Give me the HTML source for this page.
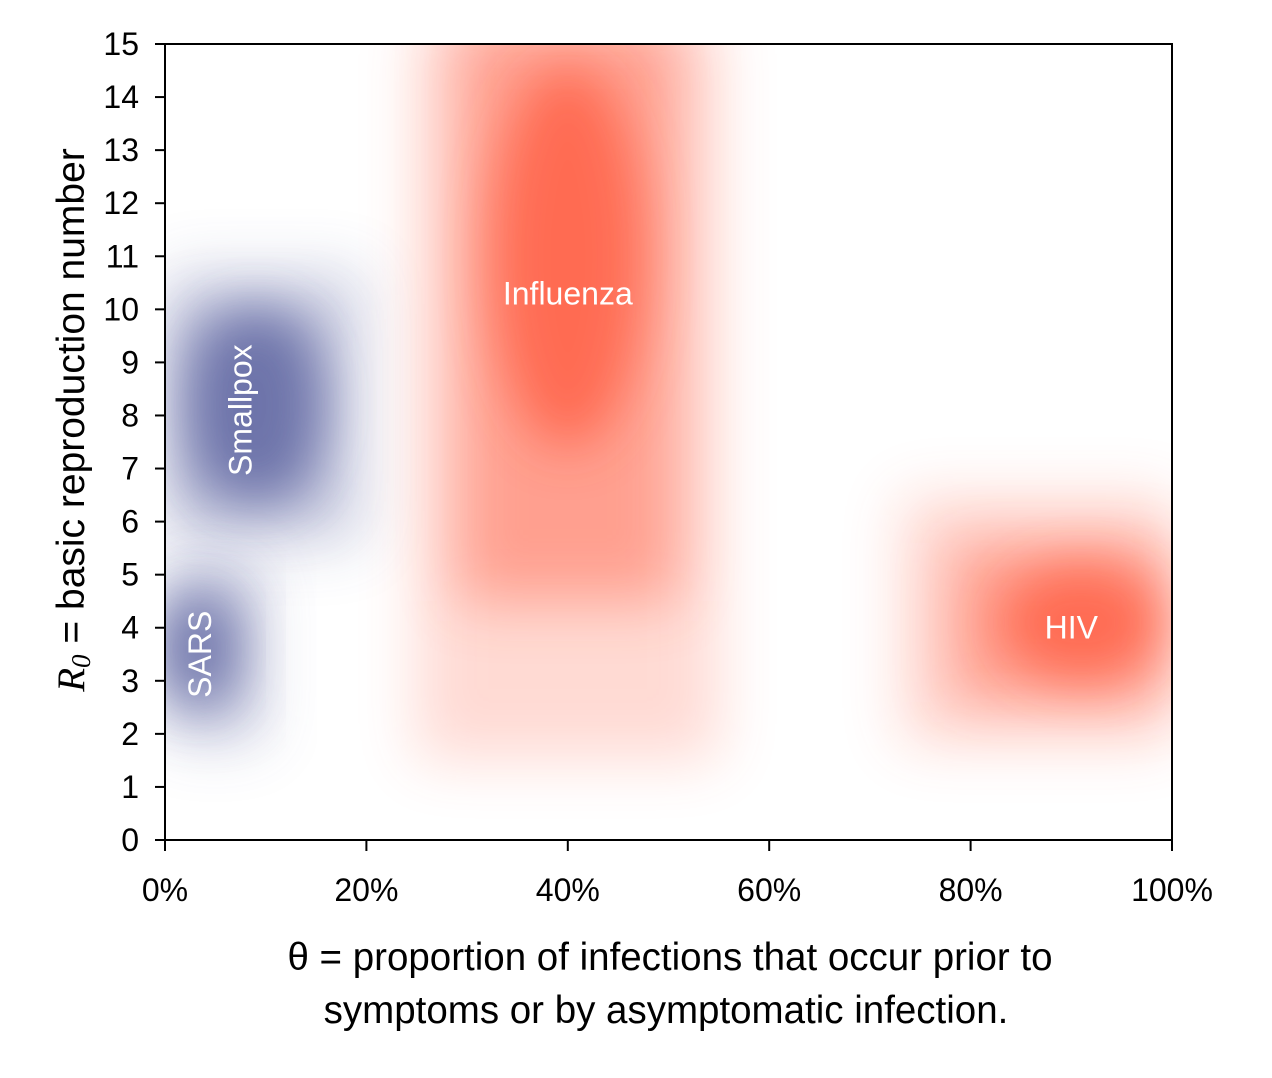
<!DOCTYPE html>
<html><head><meta charset="utf-8"><style>
html,body{margin:0;padding:0;background:#fff;}
svg{display:block;font-family:"Liberation Sans",Arial,sans-serif;}
</style></head><body>
<svg id="chart" width="1272" height="1078" viewBox="0 0 1272 1078">
<defs>
<clipPath id="plotclip"><rect x="165" y="44" width="1007" height="796"/></clipPath>
<filter id="blurA" x="-50%" y="-50%" width="200%" height="200%"><feGaussianBlur stdDeviation="30"/></filter>
<filter id="blurB" x="-50%" y="-50%" width="200%" height="200%"><feGaussianBlur stdDeviation="26"/></filter>
</defs>
<g id="blobs" clip-path="url(#plotclip)"></g>
<g id="labels"></g>
<rect x="165" y="44" width="1007" height="796" fill="none" stroke="#000" stroke-width="2"/>
<g id="axes"></g>
<text x="0" y="0" transform="translate(84,420) rotate(-90)" text-anchor="middle" font-size="39"><tspan font-family="Liberation Serif,serif" font-style="italic">R</tspan><tspan font-family="Liberation Serif,serif" font-style="italic" font-size="27" dy="6">0</tspan><tspan dy="-6"> = basic reproduction number</tspan></text>
<text x="670" y="970" text-anchor="middle" font-size="38.5">θ = proportion of infections that occur prior to</text>
<text x="666" y="1023" text-anchor="middle" font-size="38.5">symptoms or by asymptomatic infection.</text>
</svg>
<script>
const diseases=["Smallpox","SARS","Influenza","HIV"];
const colors=["#4c5296","#4c5296","#ff4a2a","#ff4a2a"];
// outer rectangular ranges
const xMinOuter=[0.00,0.00,0.25,0.73];
const xMaxOuter=[0.20,0.10,0.55,1.00];
const yMinOuter=[5.5,1.8,1.5,1.8];
const yMaxOuter=[10.8,5.2,15.5,6.5];
// mid rectangular ranges
const xMinMid=[0.01,0.00,0.29,0.78];
const xMaxMid=[0.16,0.08,0.51,1.00];
const yMinMid=[6.2,2.4,4.5,2.6];
const yMaxMid=[10.0,4.8,15.5,5.6];
// dense cores (ellipse centres and radii)
const coreX=[0.09,0.03,0.40,0.91];
const coreY=[8.2,3.6,11.0,4.1];
const coreRX=[0.065,0.035,0.075,0.08];
const coreRY=[1.8,1.0,3.6,1.1];
const labelX=[0.075,0.035,0.40,0.90];
const labelY=[8.1,3.5,10.3,4.0];
const labelRot=[true,true,false,false];
const yTicks=[0,1,2,3,4,5,6,7,8,9,10,11,12,13,14,15];
const xTicks=[0,0.2,0.4,0.6,0.8,1.0];
const xTickLabels=["0%","20%","40%","60%","80%","100%"];

const X0=165,X1=1172,Y0=840,Y1=44;
const sx=v=>X0+v*(X1-X0);
const sy=v=>Y0-v/15*(Y0-Y1);
const NS="http://www.w3.org/2000/svg";
const mk=(t,a)=>{const e=document.createElementNS(NS,t);for(const k in a)e.setAttribute(k,a[k]);return e;};
const blobs=document.getElementById('blobs'),labels=document.getElementById('labels'),axes=document.getElementById('axes');
diseases.forEach((d,i)=>{
  const o=mk('rect',{x:sx(xMinOuter[i]),y:sy(yMaxOuter[i]),width:sx(xMaxOuter[i])-sx(xMinOuter[i]),height:sy(yMinOuter[i])-sy(yMaxOuter[i]),fill:colors[i],opacity:0.2,filter:'url(#blurA)'});
  
  
  blobs.appendChild(o);
  const m=mk('rect',{x:sx(xMinMid[i]),y:sy(yMaxMid[i]),width:sx(xMaxMid[i])-sx(xMinMid[i]),height:sy(yMinMid[i])-sy(yMaxMid[i]),fill:colors[i],opacity:0.4,filter:'url(#blurA)'});
  
  
  blobs.appendChild(m);
  const c=mk('ellipse',{cx:sx(coreX[i]),cy:sy(coreY[i]),rx:sx(coreRX[i])-sx(0),ry:sy(0)-sy(coreRY[i]),fill:colors[i],opacity:0.6,filter:'url(#blurB)'});
  
  
  blobs.appendChild(c);
  const lx=sx(labelX[i]),ly=sy(labelY[i]);
  const t=mk('text',{x:lx,y:ly+11,'text-anchor':'middle','font-size':32,fill:'#fff'});
  if(labelRot[i])t.setAttribute('transform','rotate(-90 '+lx+' '+ly+')');
  t.textContent=d;
  
  
  labels.appendChild(t);
});
yTicks.forEach(v=>{
  const l=mk('line',{x1:155,x2:165,y1:sy(v),y2:sy(v),stroke:'#000','stroke-width':2});
  
  
  axes.appendChild(l);
  const t=mk('text',{x:139,y:sy(v)+11,'text-anchor':'end','font-size':32});
  t.textContent=v;
  
  
  axes.appendChild(t);
});
xTicks.forEach((v,i)=>{
  const l=mk('line',{x1:sx(v),x2:sx(v),y1:840,y2:851,stroke:'#000','stroke-width':2});
  
  
  axes.appendChild(l);
  const t=mk('text',{x:sx(v),y:901,'text-anchor':'middle','font-size':32});
  t.textContent=xTickLabels[i];
  
  
  axes.appendChild(t);
});
</script>
</body></html>
